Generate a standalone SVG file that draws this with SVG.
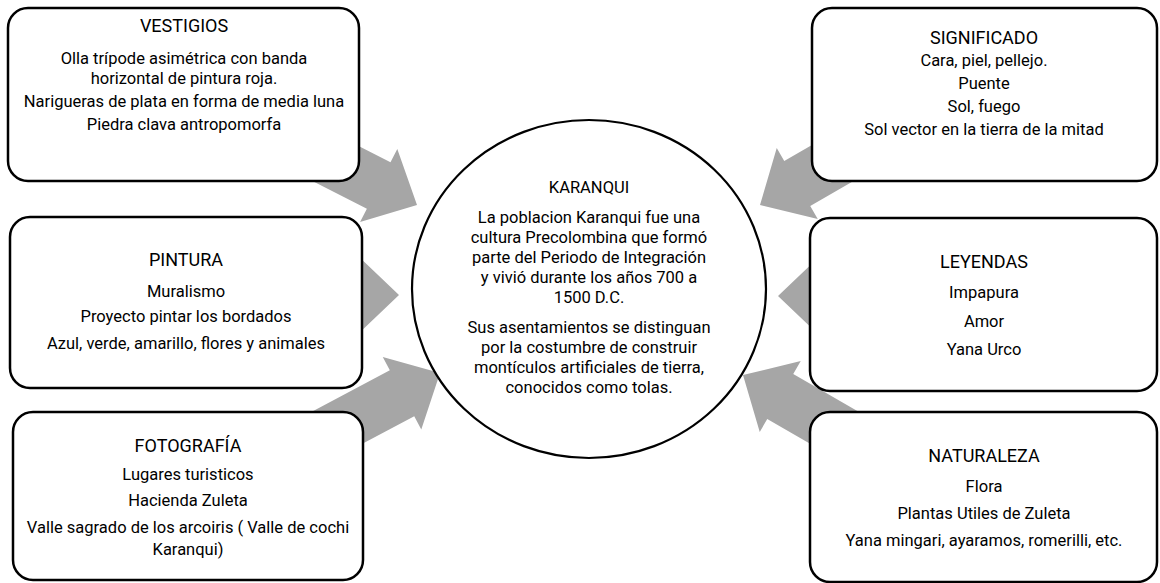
<svg xmlns="http://www.w3.org/2000/svg" width="1160" height="583" viewBox="0 0 1160 583">
<defs>
<style>
.box{fill:#fff;stroke:#000;stroke-width:2.5}
.hub{fill:#fff;stroke:#000;stroke-width:2.2}
.arr{fill:#a6a6a6;stroke:none}
text{font-family:Roboto,"Liberation Sans",sans-serif;fill:#000;text-anchor:middle}
.t{font-size:18px}
.b{font-size:16.5px}
</style>
<polygon id="arrowShape" points="0,0 -43,-41 -43,-26 -200,-26 -200,26 -43,26 -43,41"/>
</defs>
<g id="connectors">
<use href="#arrowShape" class="arr" transform="translate(417,205) rotate(27)"/>
<use href="#arrowShape" class="arr" transform="translate(399,295)"/>
<use href="#arrowShape" class="arr" transform="translate(440,373) rotate(-28)"/>
<use href="#arrowShape" class="arr" transform="translate(760,205) rotate(150)"/>
<use href="#arrowShape" class="arr" transform="translate(778,296) rotate(180)"/>
<use href="#arrowShape" class="arr" transform="translate(743,375) rotate(210)"/>
</g>
<g id="karanqui">
<ellipse class="hub" cx="589" cy="289" rx="177" ry="169"/>
<text class="b" x="589" y="193">KARANQUI</text>
<text class="b" x="589" y="223">La poblacion Karanqui fue una</text>
<text class="b" x="589" y="243">cultura Precolombina que formó</text>
<text class="b" x="589" y="263">parte del Periodo de Integración</text>
<text class="b" x="589" y="283">y vivió durante los años 700 a</text>
<text class="b" x="589" y="303">1500 D.C.</text>
<text class="b" x="589" y="333">Sus asentamientos se distinguan</text>
<text class="b" x="589" y="353">por la costumbre de construir</text>
<text class="b" x="589" y="373">montículos artificiales de tierra,</text>
<text class="b" x="589" y="393">conocidos como tolas.</text>
</g>
<g id="vestigios">
<rect class="box" x="8" y="8" width="351" height="173" rx="20"/>
<text class="t" x="184" y="32">VESTIGIOS</text>
<text class="b" x="184" y="64">Olla trípode asimétrica con banda</text>
<text class="b" x="184" y="84">horizontal de pintura roja.</text>
<text class="b" x="184" y="107">Narigueras de plata en forma de media luna</text>
<text class="b" x="184" y="130">Piedra clava antropomorfa</text>
</g>
<g id="significado">
<rect class="box" x="812" y="8" width="345" height="173" rx="20"/>
<text class="t" x="984" y="44">SIGNIFICADO</text>
<text class="b" x="984" y="66">Cara, piel, pellejo.</text>
<text class="b" x="984" y="89">Puente</text>
<text class="b" x="984" y="112">Sol, fuego</text>
<text class="b" x="984" y="135">Sol vector en la tierra de la mitad</text>
</g>
<g id="pintura">
<rect class="box" x="10" y="217" width="352" height="171" rx="20"/>
<text class="t" x="186" y="266">PINTURA</text>
<text class="b" x="186" y="297">Muralismo</text>
<text class="b" x="186" y="322">Proyecto pintar los bordados</text>
<text class="b" x="186" y="349">Azul, verde, amarillo, flores y animales</text>
</g>
<g id="leyendas">
<rect class="box" x="810" y="218" width="347" height="173" rx="20"/>
<text class="t" x="984" y="268">LEYENDAS</text>
<text class="b" x="984" y="298">Impapura</text>
<text class="b" x="984" y="327">Amor</text>
<text class="b" x="984" y="355">Yana Urco</text>
</g>
<g id="fotografia">
<rect class="box" x="13" y="412" width="350" height="168" rx="20"/>
<text class="t" x="188" y="452">FOTOGRAFÍA</text>
<text class="b" x="188" y="480">Lugares turisticos</text>
<text class="b" x="188" y="506">Hacienda Zuleta</text>
<text class="b" x="188" y="533">Valle sagrado de los arcoiris ( Valle de cochi</text>
<text class="b" x="188" y="555">Karanqui)</text>
</g>
<g id="naturaleza">
<rect class="box" x="810" y="412" width="347" height="170" rx="20"/>
<text class="t" x="984" y="462">NATURALEZA</text>
<text class="b" x="984" y="492">Flora</text>
<text class="b" x="984" y="519">Plantas Utiles de Zuleta</text>
<text class="b" x="984" y="546">Yana mingari, ayaramos, romerilli, etc.</text>
</g>
</svg>
